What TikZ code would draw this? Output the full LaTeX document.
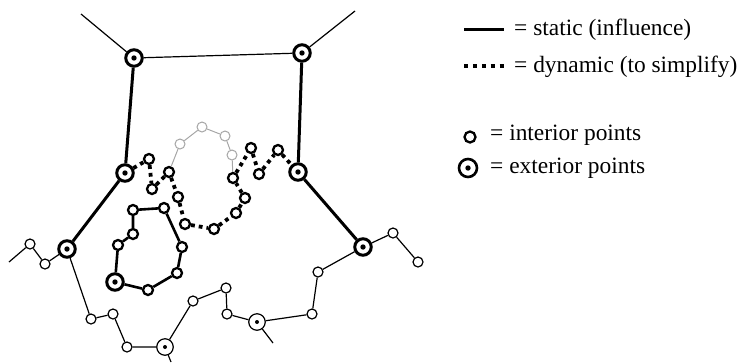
\documentclass[tikz,border=0pt]{standalone}
\usepackage{fontspec}
\setmainfont{Liberation Serif}
\begin{document}
\begin{tikzpicture}[x=1bp,y=-1bp,
  thinln/.style={line width=1.2bp},
  thickln/.style={line width=3bp},
  dotln/.style={line width=3.8bp, dash pattern=on 3.8bp off 4bp},
  grayln/.style={line width=1bp, black!35},
  ext/.style={circle, draw, line width=3bp, fill=white, minimum size=16.5bp, inner sep=0pt,
    path picture={\fill[black] (path picture bounding box.center) circle (2.7bp);}},
  extthin/.style={circle, draw, line width=1.2bp, fill=white, minimum size=16.5bp, inner sep=0pt,
    path picture={\fill[black] (path picture bounding box.center) circle (2bp);}},
  int/.style={circle, draw, line width=1.2bp, fill=white, minimum size=10bp, inner sep=0pt},
  intb/.style={circle, draw, line width=2.3bp, fill=white, minimum size=10bp, inner sep=0pt},
  intg/.style={circle, draw=black!35, line width=1bp, fill=white, minimum size=10bp, inner sep=0pt},
  legtext/.style={anchor=base west, inner sep=0pt, font=\fontsize{23.5}{28}\selectfont}
]
\useasboundingbox (0,0) rectangle (744,363);

% free ends
\coordinate (fTL) at (81,14);
\coordinate (fTR) at (355,11);
\coordinate (fL) at (9,262);
\coordinate (fB1) at (171,362);
\coordinate (fB2) at (273,343);

% exterior points
\node[ext] (eTL) at (134,58) {};
\node[ext] (eTR) at (302,53) {};
\node[ext] (eML) at (125,173) {};
\node[ext] (eMR) at (298,172) {};
\node[ext] (eBL) at (67,249) {};
\node[ext] (eBR) at (363,247) {};
\node[ext] (eLoop) at (115,282) {};
\node[extthin] (eB1) at (165,347) {};
\node[extthin] (eB2) at (257,322) {};

% interior thin
\node[int] (l1) at (45,264) {};
\node[int] (l2) at (30,244) {};
\node[int] (r1) at (393,233) {};
\node[int] (r2) at (418,262) {};
\node[int] (b1) at (91,319) {};
\node[int] (b2) at (113,314) {};
\node[int] (b3) at (127,347) {};
\node[int] (b4) at (193,301) {};
\node[int] (b5) at (226,288) {};
\node[int] (b6) at (227,314) {};
\node[int] (b7) at (312,314) {};
\node[int] (b8) at (318,272) {};

% loop
\node[intb] (p1) at (148,290) {};
\node[intb] (p2) at (177,273) {};
\node[intb] (p3) at (182,247) {};
\node[intb] (p4) at (164,208) {};
\node[intb] (p5) at (133,210) {};
\node[intb] (p6) at (133,234) {};
\node[intb] (p7) at (118,245) {};

% dynamic chain
\node[intb] (d1) at (149,159) {};
\node[intb] (d2) at (152,189) {};
\node[intb] (d3) at (169,172) {};
\node[intb] (d4) at (178,197) {};
\node[intb] (d5) at (185,224) {};
\node[intb] (d6) at (214,229) {};
\node[intb] (d7) at (236,213) {};
\node[intb] (d8) at (245,198) {};
\node[intb] (d9) at (233,178) {};
\node[intb] (d10) at (251,148) {};
\node[intb] (d11) at (259,174) {};
\node[intb] (d12) at (278,150) {};

% gray chain
\node[intg] (g1) at (180,144) {};
\node[intg] (g2) at (202,127) {};
\node[intg] (g3) at (225,136) {};
\node[intg] (g4) at (232,155) {};

% connectors
\draw[thinln] (fTL) -- (eTL);
\draw[thinln] (fTR) -- (eTR);
\draw[thinln] (eTL) -- (eTR);
\draw[thickln] (eTL) -- (eML);
\draw[thickln] (eTR) -- (eMR);
\draw[thickln] (eML) -- (eBL);
\draw[thickln] (eMR) -- (eBR);

\draw[thinln] (fL) -- (l2) -- (l1) -- (eBL);
\draw[thinln] (eBR) -- (r1) -- (r2);
\draw[thinln] (eBL) -- (b1) -- (b2) -- (b3) -- (eB1) -- (b4) -- (b5) -- (b6) -- (eB2) -- (b7) -- (b8) -- (eBR);
\draw[thinln] (eB1) -- (fB1);
\draw[thinln] (eB2) -- (fB2);

\draw[thickln, line width=2.6bp] (eLoop) -- (p1) -- (p2) -- (p3) -- (p4) -- (p5) -- (p6) -- (p7) -- (eLoop);

\draw[grayln] (d3) -- (g1) -- (g2) -- (g3) -- (g4) -- (d9);

\draw[dotln] (eML) -- (d1);
\draw[dotln] (d1) -- (d2);
\draw[dotln] (d2) -- (d3);
\draw[dotln] (d3) -- (d4);
\draw[dotln] (d4) -- (d5);
\draw[dotln] (d5) -- (d6);
\draw[dotln] (d6) -- (d7);
\draw[dotln] (d7) -- (d8);
\draw[dotln] (d8) -- (d9);
\draw[dotln] (d9) -- (d10);
\draw[dotln] (d10) -- (d11);
\draw[dotln] (d11) -- (d12);
\draw[dotln] (d12) -- (eMR);

% legend
\coordinate (ls1) at (464,29);
\coordinate (ls2) at (504,29);
\coordinate (ld1) at (464,66);
\coordinate (ld2) at (503.5,66);
\draw[thickln] (ls1) -- (ls2);
\draw[dotln, dash pattern=on 3.9bp off 5bp] (ld1) -- (ld2);
\node[legtext] (t1) at (514,35) {= static (influence)};
\node[legtext] (t2) at (514,72) {= dynamic (to simplify)};
\node[intb, minimum size=11bp] (li) at (470,137) {};
\node[ext, minimum size=18bp, line width=2.6bp] (le) at (468,168) {};
\node[legtext] (t3) at (490,140) {= interior points};
\node[legtext] (t4) at (490,173) {= exterior points};
\end{tikzpicture}
\end{document}
